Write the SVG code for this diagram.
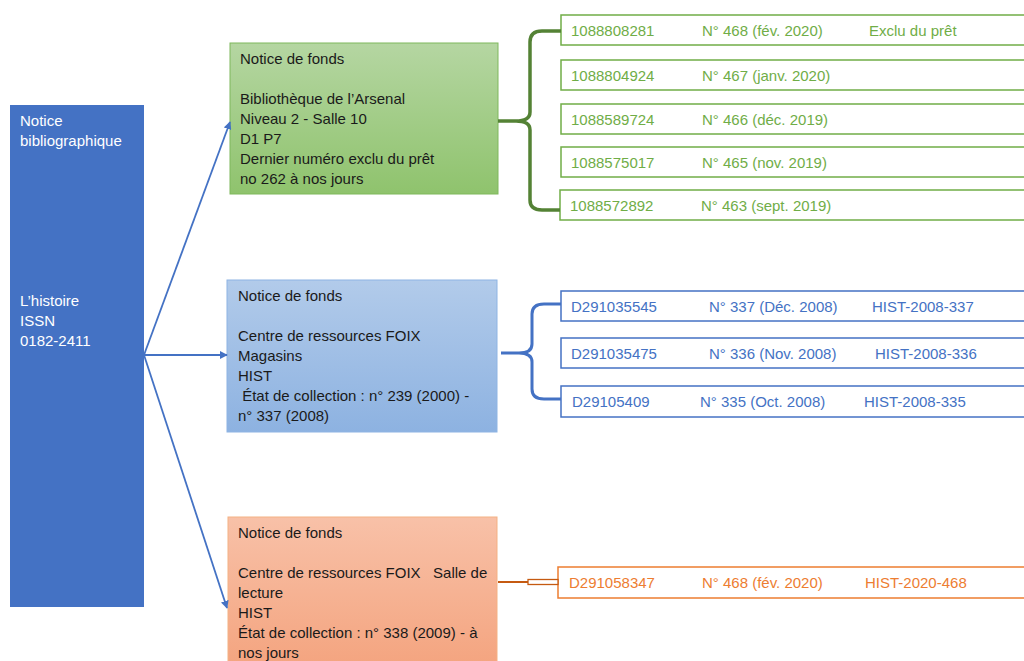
<svg xmlns="http://www.w3.org/2000/svg" width="1024" height="661" viewBox="0 0 1024 661">
<defs>
<linearGradient id="gG" x1="0" y1="0" x2="0" y2="1"><stop offset="0" stop-color="#b5d6a2"/><stop offset="1" stop-color="#8fc36d"/></linearGradient>
<linearGradient id="gB" x1="0" y1="0" x2="0" y2="1"><stop offset="0" stop-color="#b2cbea"/><stop offset="1" stop-color="#8db2e1"/></linearGradient>
<linearGradient id="gO" x1="0" y1="0" x2="0" y2="1"><stop offset="0" stop-color="#f8c1a8"/><stop offset="1" stop-color="#f4a47f"/></linearGradient>
<marker id="arr" viewBox="0 0 10 10" refX="9" refY="5" markerWidth="8" markerHeight="8" markerUnits="userSpaceOnUse" orient="auto"><path d="M0,0 L10,5 L0,10 z" fill="#4472c4"/></marker>
<style>
text{font-family:"Liberation Sans",Arial,sans-serif;font-size:15px;dominant-baseline:central}
.w{fill:#ffffff}
.k{fill:#1a1a1a}
.tg{fill:#70ad47}
.tb{fill:#4472c4}
.to{fill:#ed7d31}
.ig{fill:#ffffff;stroke:#70ad47;stroke-width:1.5}
.ib{fill:#ffffff;stroke:#4472c4;stroke-width:1.5}
.io{fill:#ffffff;stroke:#ed7d31;stroke-width:1.5}
.arrow{fill:none;stroke:#4472c4;stroke-width:1.8;marker-end:url(#arr)}
</style>
</defs>
<rect width="1024" height="661" fill="#ffffff"/>

<g id="biblio">
<rect x="10" y="105" width="134" height="502" fill="#4472c4"/>
<text class="w" x="20" y="120">Notice</text>
<text class="w" x="20" y="140">bibliographique</text>
<text class="w" x="20" y="300">L’histoire</text>
<text class="w" x="20" y="320">ISSN</text>
<text class="w" x="20" y="340">0182-2411</text>
</g>

<g id="fonds-arsenal">
<rect x="230" y="43" width="268" height="151" fill="url(#gG)" stroke="#7fb85c" stroke-width="1"/>
<text class="k" x="240" y="58">Notice de fonds</text>
<text class="k" x="240" y="98">Bibliothèque de l’Arsenal</text>
<text class="k" x="240" y="118">Niveau 2 - Salle 10</text>
<text class="k" x="240" y="138">D1 P7</text>
<text class="k" x="240" y="158">Dernier numéro exclu du prêt</text>
<text class="k" x="240" y="178">no 262 à nos jours</text>
</g>

<g id="fonds-magasins">
<rect x="227" y="280" width="270" height="152" fill="url(#gB)" stroke="#8eb4e3" stroke-width="1"/>
<text class="k" x="238" y="295">Notice de fonds</text>
<text class="k" x="238" y="335">Centre de ressources FOIX</text>
<text class="k" x="238" y="355">Magasins</text>
<text class="k" x="238" y="375">HIST</text>
<text class="k" x="238" y="395" xml:space="preserve"> État de collection : n° 239 (2000) -</text>
<text class="k" x="238" y="415">n° 337 (2008)</text>
</g>

<g id="fonds-salle">
<rect x="228" y="517" width="269" height="150" fill="url(#gO)" stroke="#f4b183" stroke-width="1"/>
<text class="k" x="238" y="532">Notice de fonds</text>
<text class="k" x="238" y="572" xml:space="preserve">Centre de ressources FOIX   Salle de</text>
<text class="k" x="238" y="592">lecture</text>
<text class="k" x="238" y="612">HIST</text>
<text class="k" x="238" y="632">État de collection : n° 338 (2009) - à</text>
<text class="k" x="238" y="652">nos jours</text>
</g>

<g id="ex-g1"><rect class="ig" x="561" y="15" width="470" height="30"/>
<text class="tg" x="571" y="30">1088808281</text><text class="tg" x="702" y="30">N° 468 (fév. 2020)</text><text class="tg" x="869" y="30">Exclu du prêt</text></g>
<g id="ex-g2"><rect class="ig" x="561" y="60" width="470" height="30"/>
<text class="tg" x="571" y="75">1088804924</text><text class="tg" x="702" y="75">N° 467 (janv. 2020)</text></g>
<g id="ex-g3"><rect class="ig" x="561" y="104" width="470" height="30"/>
<text class="tg" x="571" y="119">1088589724</text><text class="tg" x="702" y="119">N° 466 (déc. 2019)</text></g>
<g id="ex-g4"><rect class="ig" x="561" y="147" width="470" height="30"/>
<text class="tg" x="571" y="162">1088575017</text><text class="tg" x="702" y="162">N° 465 (nov. 2019)</text></g>
<g id="ex-g5"><rect class="ig" x="560" y="190" width="470" height="30"/>
<text class="tg" x="570" y="205">1088572892</text><text class="tg" x="701" y="205">N° 463 (sept. 2019)</text></g>

<g id="ex-b1"><rect class="ib" x="561" y="291" width="470" height="30"/>
<text class="tb" x="571" y="306">D291035545</text><text class="tb" x="709" y="306">N° 337 (Déc. 2008)</text><text class="tb" x="872" y="306">HIST-2008-337</text></g>
<g id="ex-b2"><rect class="ib" x="561" y="338" width="470" height="30"/>
<text class="tb" x="571" y="353">D291035475</text><text class="tb" x="709" y="353">N° 336 (Nov. 2008)</text><text class="tb" x="875" y="353">HIST-2008-336</text></g>
<g id="ex-b3"><rect class="ib" x="561" y="386" width="470" height="31"/>
<text class="tb" x="572" y="401">D29105409</text><text class="tb" x="700" y="401">N° 335 (Oct. 2008)</text><text class="tb" x="864" y="401">HIST-2008-335</text></g>

<g id="ex-o1"><rect class="io" x="558" y="567" width="470" height="31"/>
<text class="to" x="569" y="582">D291058347</text><text class="to" x="702" y="582">N° 468 (fév. 2020)</text><text class="to" x="865" y="582">HIST-2020-468</text></g>

<g id="connectors">
<line class="arrow" x1="144" y1="355" x2="230" y2="122"/>
<line class="arrow" x1="144" y1="355" x2="227" y2="355"/>
<line class="arrow" x1="144" y1="355" x2="227" y2="608"/>
<path d="M498,121 L516,121 Q530,121 530,112 L530,42 Q530,31 542,31 L561,31 M516,121 Q530,121 530,130 L530,200 Q530,210 542,210 L560,210" fill="none" stroke="#548235" stroke-width="3.5"/>
<path d="M501,353 L519,353 Q532,353 532,344 L532,314 Q532,304 544,304 L561,304 M519,353 Q532,353 532,362 L532,389 Q532,399 544,399 L561,399" fill="none" stroke="#4472c4" stroke-width="3"/>
<line x1="498" y1="582" x2="528" y2="582" stroke="#c55a11" stroke-width="2"/>
<rect x="528" y="579.5" width="30" height="5" fill="#ffffff" stroke="#c55a11" stroke-width="1.3"/>
</g>
</svg>
